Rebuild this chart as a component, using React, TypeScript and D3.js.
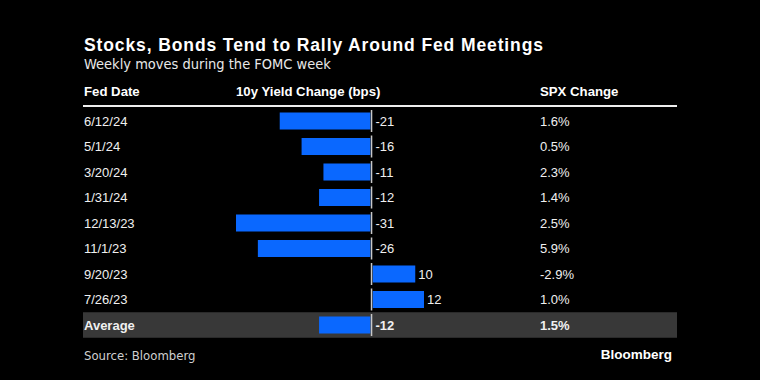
import React from "react";
import * as d3 from "d3";

const dates = ["6/12/24", "5/1/24", "3/20/24", "1/31/24", "12/13/23", "11/1/23", "9/20/23", "7/26/23"];
const yieldChange = [-21, -16, -11, -12, -31, -26, 10, 12];
const spxChange = ["1.6%", "0.5%", "2.3%", "1.4%", "2.5%", "5.9%", "-2.9%", "1.0%"];
const avgLabel = "Average";
const avgYield = -12;
const avgSpx = "1.5%";
const headers = ["Fed Date", "10y Yield Change (bps)", "SPX Change"];

const W = 760, H = 380;
const SANS = "'Liberation Sans', Arial, Helvetica, sans-serif";
const COND = "'DejaVu Sans Condensed', 'Liberation Sans Narrow', sans-serif";
const BLUE = "#0a68ff";

export default function App() {
  const rows = [
    ...dates.map((d, i) => ({ label: d, y: yieldChange[i], spx: spxChange[i], avg: false })),
    { label: avgLabel, y: avgYield, spx: avgSpx, avg: true },
  ];
  const yBand = d3
    .scaleBand<number>()
    .domain(rows.map((_, i) => i))
    .range([108.25, 337.75])
    .paddingInner(0.333)
    .paddingOuter(0.1667);
  const x = d3.scaleLinear().domain([-31, 12]).range([236, 424]);
  const step = yBand.step();
  const x0 = x(0);

  return (
    <svg width={W} height={H} style={{ position: "fixed", left: 0, top: 0, background: "#000" }}>
      <rect x={0} y={0} width={W} height={H} fill="#000" />
      <text x={84} y={51} fill="#fff" fontFamily={SANS} fontWeight="bold" fontSize={17.5} textLength={459} lengthAdjust="spacing">
        Stocks, Bonds Tend to Rally Around Fed Meetings
      </text>
      <text x={84} y={69} fill="#e8e8e8" fontFamily={COND} fontSize={14.5}>
        Weekly moves during the FOMC week
      </text>
      <text x={84} y={96} fill="#fff" fontFamily={SANS} fontWeight="bold" fontSize={13.2}>{headers[0]}</text>
      <text x={236} y={96} fill="#fff" fontFamily={SANS} fontWeight="bold" fontSize={13.2}>{headers[1]}</text>
      <text x={540} y={96} fill="#fff" fontFamily={SANS} fontWeight="bold" fontSize={13.2}>{headers[2]}</text>
      <line x1={83} x2={677} y1={106} y2={106} stroke="#eee" strokeWidth={2} />
      {rows.map((r, i) => {
        const top = yBand(i)!;
        const cy = top + yBand.bandwidth() / 2;
        const bx = r.y < 0 ? x(r.y) : x0 + 1.2;
        const bw = r.y < 0 ? x0 - 1.2 - x(r.y) : x(r.y) - x0 - 1.2;
        const lx = r.y < 0 ? x0 + 4 : x(r.y) + 3;
        const fw = r.avg ? "bold" : "normal";
        return (
          <g key={i}>
            {r.avg && <rect x={83} y={cy - step / 2} width={594} height={step} fill="#383838" />}
            <rect x={bx} y={top} width={bw} height={yBand.bandwidth()} fill={BLUE} />
            <line x1={x0} x2={x0} y1={cy - 11} y2={cy + 11} stroke="#c8c8c8" strokeWidth={1.5} />
            <text x={84} y={cy + 4.6} fill="#f0f0f0" fontFamily={SANS} fontSize={13} fontWeight={fw}>{r.label}</text>
            <text x={lx} y={cy + 4.6} fill="#f0f0f0" fontFamily={SANS} fontSize={13} fontWeight={fw}>{r.y}</text>
            <text x={540} y={cy + 4.6} fill="#f0f0f0" fontFamily={SANS} fontSize={13} fontWeight={fw}>{r.spx}</text>
          </g>
        );
      })}
      <text x={84} y={360} fill="#cfcfcf" fontFamily={COND} fontSize={13}>Source: Bloomberg</text>
      <text x={672} y={359} textAnchor="end" fill="#fff" fontFamily={SANS} fontWeight="bold" fontSize={13.5}>Bloomberg</text>
    </svg>
  );
}
